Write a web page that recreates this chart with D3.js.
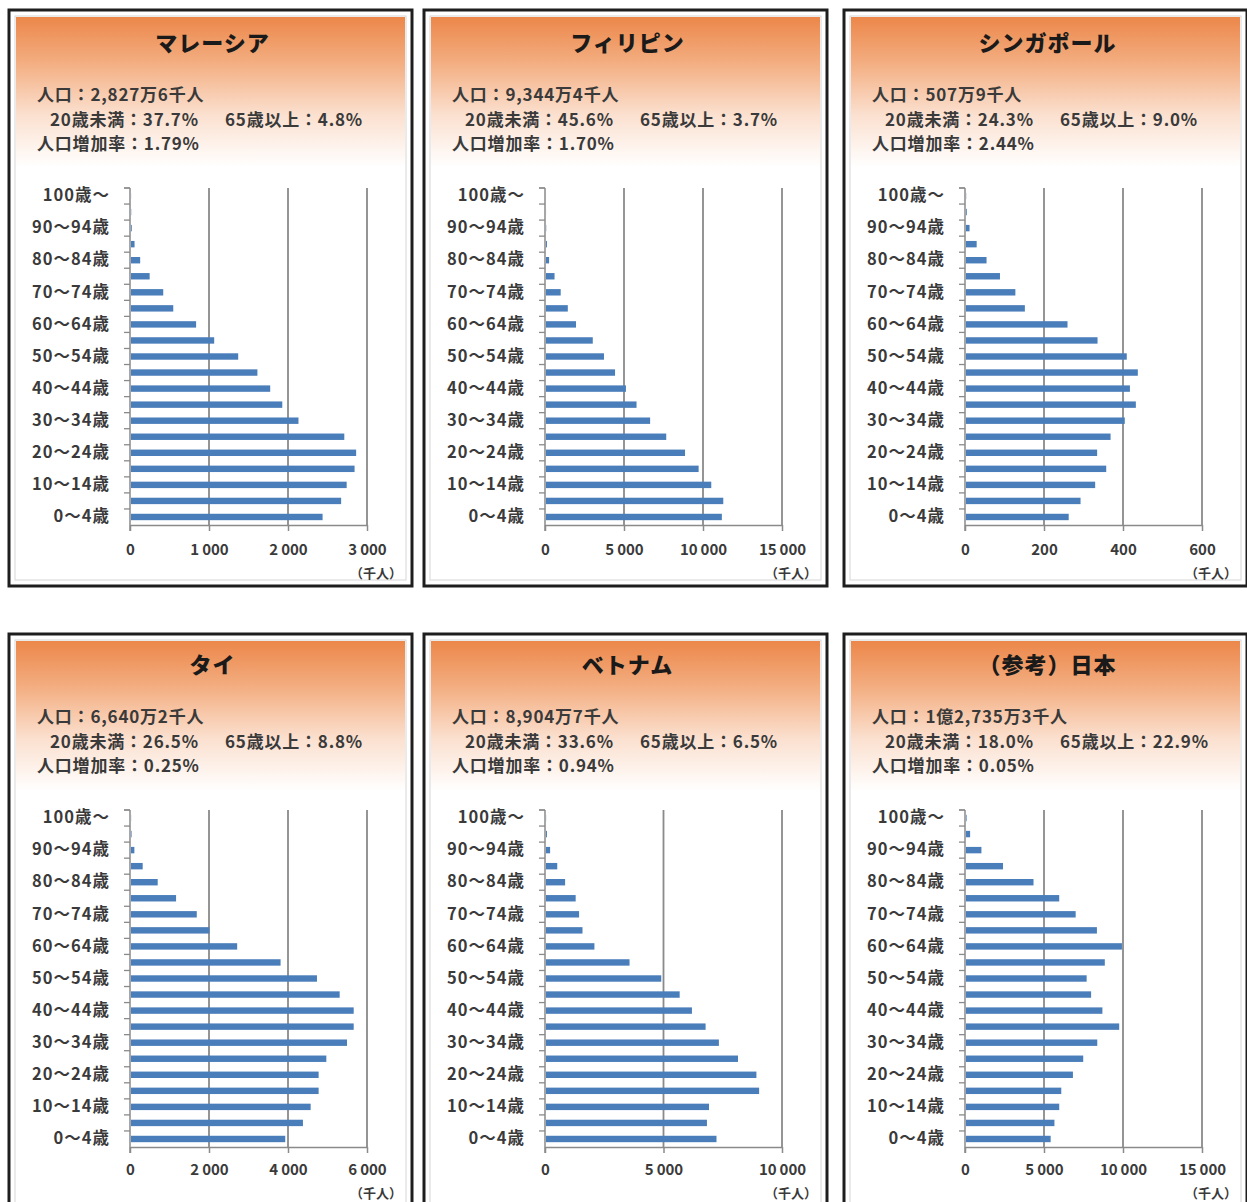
<!DOCTYPE html>
<html>
<head>
<meta charset="utf-8">
<script src="https://cdn.jsdelivr.net/npm/d3@7"></script>
<style>
  html, body { margin: 0; padding: 0; background: #fff; }
  svg { display: block; font-family: "Noto Sans CJK JP", "Noto Sans", sans-serif; }
</style>
</head>
<body>
<script>
// ---------------- DATA ----------------
const ageGroups = ["0～4歳","5～9歳","10～14歳","15～19歳","20～24歳","25～29歳","30～34歳",
  "35～39歳","40～44歳","45～49歳","50～54歳","55～59歳","60～64歳","65～69歳","70～74歳",
  "75～79歳","80～84歳","85～89歳","90～94歳","95～99歳","100歳～"];

const titles = ["マレーシア", "フィリピン", "シンガポール", "タイ", "ベトナム", "（参考）日本"];

const populationText = ["人口：2,827万6千人", "人口：9,344万4千人", "人口：507万9千人",
  "人口：6,640万2千人", "人口：8,904万7千人", "人口：1億2,735万3千人"];
const under20Text = ["20歳未満：37.7%", "20歳未満：45.6%", "20歳未満：24.3%",
  "20歳未満：26.5%", "20歳未満：33.6%", "20歳未満：18.0%"];
const over65Text = ["65歳以上：4.8%", "65歳以上：3.7%", "65歳以上：9.0%",
  "65歳以上：8.8%", "65歳以上：6.5%", "65歳以上：22.9%"];
const growthText = ["人口増加率：1.79%", "人口増加率：1.70%", "人口増加率：2.44%",
  "人口増加率：0.25%", "人口増加率：0.94%", "人口増加率：0.05%"];

// values in thousands, from 0～4歳 up to 100歳～
const malaysia    = [2425, 2660, 2730, 2830, 2850, 2700, 2120, 1915, 1762, 1600, 1357, 1053, 824, 535, 408, 236, 116, 45, 10, 3, 1];
const philippines = [11130, 11220, 10460, 9660, 8800, 7610, 6590, 5730, 5060, 4370, 3670, 2960, 1900, 1380, 930, 540, 195, 60, 15, 3, 1];
const singapore   = [260, 290, 327, 355, 332, 366, 402, 430, 415, 435, 407, 333, 257, 149, 125, 86, 52, 27, 9, 2, 0.5];
const thailand    = [3905, 4353, 4548, 4750, 4750, 4945, 5469, 5638, 5638, 5283, 4708, 3787, 2688, 1986, 1665, 1141, 676, 296, 85, 15, 3];
const vietnam     = [7194, 6791, 6878, 8993, 8878, 8101, 7295, 6734, 6158, 5640, 4863, 3525, 2043, 1540, 1396, 1252, 806, 475, 173, 40, 5];
const japan       = [5358, 5597, 5900, 6030, 6768, 7419, 8308, 9696, 8633, 7918, 7636, 8785, 9870, 8286, 6941, 5900, 4273, 2343, 976, 260, 40];

const seriesList = [malaysia, philippines, singapore, thailand, vietnam, japan];

const ticksMalaysia    = [0, 1000, 2000, 3000];
const ticksPhilippines = [0, 5000, 10000, 15000];
const ticksSingapore   = [0, 200, 400, 600];
const ticksThailand    = [0, 2000, 4000, 6000];
const ticksVietnam     = [0, 5000, 10000];
const ticksJapan       = [0, 5000, 10000, 15000];
const tickList = [ticksMalaysia, ticksPhilippines, ticksSingapore, ticksThailand, ticksVietnam, ticksJapan];

const unitLabel = "（千人）";

// ---------------- DRAW ----------------
const W = 1247, H = 1202;
const svg = d3.select("body").append("svg").attr("width", W).attr("height", H);

const defs = svg.append("defs");
const grad = defs.append("linearGradient").attr("id", "hdr")
  .attr("x1", 0).attr("y1", 0).attr("x2", 0).attr("y2", 1);
grad.append("stop").attr("offset", "0%").attr("stop-color", "#ec874a");
grad.append("stop").attr("offset", "30%").attr("stop-color", "#f3ad80");
grad.append("stop").attr("offset", "65%").attr("stop-color", "#fbe0cf");
grad.append("stop").attr("offset", "100%").attr("stop-color", "#ffffff");

const fmt = v => d3.format(",")(v).replace(/,/g, "\u2009");
const axisColor = "#8a8a8a";
const textColor = "#3a3a3a";
const panelX = [9, 424, 844];

seriesList.forEach((values, i) => {
  const col = i % 3, row = Math.floor(i / 3);
  const px = panelX[col], py = row === 0 ? 10 : 632;
  const pw = 403, ph = 576;
  const g = svg.append("g").attr("transform", `translate(${px},${py})`);

  // frame
  g.append("rect").attr("x", 0).attr("y", row === 0 ? 0 : 2).attr("width", pw).attr("height", ph)
    .attr("fill", "#fff").attr("stroke", "#1e1e1e").attr("stroke-width", 3);
  g.append("rect").attr("x", 6).attr("y", row === 0 ? 6 : 8).attr("width", pw - 12).attr("height", ph - 12)
    .attr("fill", "#fff").attr("stroke", "#d6d6d6").attr("stroke-width", 1);
  g.append("rect").attr("x", 7).attr("y", row === 0 ? 7 : 9).attr("width", pw - 14).attr("height", 150)
    .attr("fill", "url(#hdr)");

  // title
  g.append("text").attr("x", pw / 2 + 2).attr("y", 31)
    .attr("text-anchor", "middle").attr("dominant-baseline", "central")
    .attr("font-size", 22).attr("font-weight", 900).attr("letter-spacing", 1)
    .attr("fill", "#1a1a1a").text(titles[i]);

  // info text
  const info = g.append("g").attr("font-size", 17).attr("font-weight", 700)
    .attr("fill", textColor).attr("letter-spacing", 0.8);
  info.append("text").attr("x", 28).attr("y", 83).attr("dominant-baseline", "central").text(populationText[i]);
  info.append("text").attr("x", 41).attr("y", 108).attr("dominant-baseline", "central").text(under20Text[i]);
  info.append("text").attr("x", 216).attr("y", 108).attr("dominant-baseline", "central").text(over65Text[i]);
  info.append("text").attr("x", 28).attr("y", 132).attr("dominant-baseline", "central").text(growthText[i]);

  // scales
  const ticks = tickList[i];
  const x = d3.scaleLinear().domain([0, ticks[ticks.length - 1]]).range([121, 358]);
  const y = d3.scaleBand().domain(ageGroups).range([515, 178])
    .paddingInner(0.6).paddingOuter(0.3);
  const top = 178, bottom = 515;

  // gridlines
  g.append("g").selectAll("line").data(ticks.filter(t => t > 0)).join("line")
    .attr("x1", d => x(d)).attr("x2", d => x(d)).attr("y1", top).attr("y2", bottom)
    .attr("stroke", axisColor).attr("stroke-width", 1.8);

  // bars
  g.append("g").selectAll("rect").data(values).join("rect")
    .attr("x", x(0) + 1).attr("y", (d, k) => y(ageGroups[k]))
    .attr("width", d => Math.max(0, x(d) - x(0)))
    .attr("height", y.bandwidth())
    .attr("fill", "#4a7ebb");

  // x axis
  const xa = g.append("g").attr("transform", `translate(0,${bottom})`)
    .call(d3.axisBottom(x).tickValues(ticks).tickFormat(fmt).tickSize(6).tickSizeOuter(0));
  xa.select(".domain").attr("stroke", axisColor).attr("stroke-width", 1.5);
  xa.selectAll(".tick line").attr("stroke", axisColor).attr("stroke-width", 1.5);
  xa.selectAll(".tick text").attr("font-size", 15).attr("font-weight", 700)
    .attr("fill", textColor).attr("font-family", "'Noto Sans CJK JP', sans-serif")
    .attr("dy", "0.71em").attr("y", row === 0 ? 19 : 17);

  // unit label
  g.append("text").attr("x", pw - 10).attr("y", row === 0 ? 562 : 560).attr("text-anchor", "end")
    .attr("dominant-baseline", "central").attr("font-size", 13).attr("font-weight", 700)
    .attr("fill", textColor).text(unitLabel);

  // y axis
  const ya = g.append("g").attr("transform", `translate(${x(0)},0)`)
    .call(d3.axisLeft(y).tickValues(ageGroups.filter((d, k) => k % 2 === 0)).tickSize(0).tickPadding(20));
  ya.select(".domain").remove();
  ya.selectAll(".tick text").attr("font-size", 16.5).attr("font-weight", 700)
    .attr("fill", textColor).attr("letter-spacing", 1)
    .attr("font-family", "'Noto Sans CJK JP', sans-serif");
  // boundary ticks
  const bounds = [top].concat(ageGroups.map(d => y(d) + y.bandwidth() / 2 - y.step() / 2));
  g.append("g").selectAll("line").data(bounds).join("line")
    .attr("x1", x(0) - 6).attr("x2", x(0)).attr("y1", d => d).attr("y2", d => d)
    .attr("stroke", axisColor).attr("stroke-width", 1.3);
  g.append("line").attr("x1", x(0)).attr("x2", x(0)).attr("y1", top).attr("y2", bottom + 6)
    .attr("stroke", axisColor).attr("stroke-width", 1.5);
});
</script>
</body>
</html>
